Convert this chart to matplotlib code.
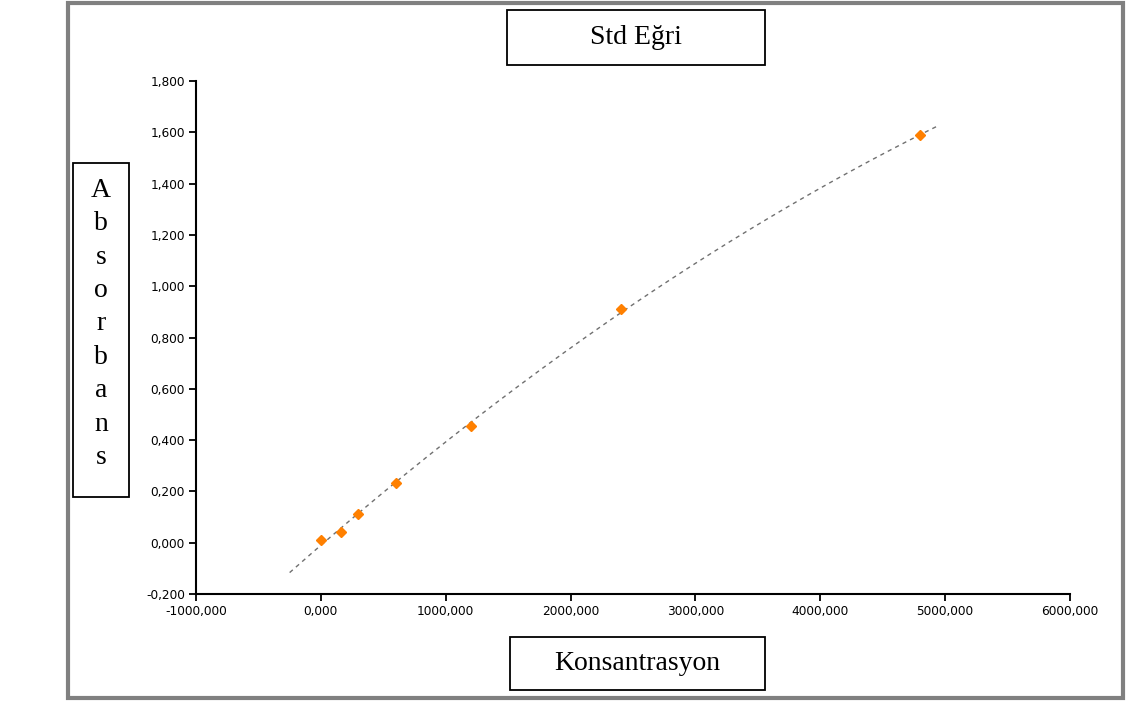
# std_egri.py
# Standard curve: absorbance vs concentration with dashed polynomial trendline

import numpy as np
import matplotlib
matplotlib.use("Agg")
import matplotlib.pyplot as plt
from matplotlib.patches import Rectangle

# ---------- DATA ----------
konsantrasyon = [0, 160, 300, 600, 1200, 2400, 4800]
absorbans = [0.012, 0.043, 0.112, 0.233, 0.455, 0.910, 1.588]
trend_range = [-250, 4950]

x_ticks = [-1000, 0, 1000, 2000, 3000, 4000, 5000, 6000]
y_ticks = [-0.2, 0.0, 0.2, 0.4, 0.6, 0.8, 1.0, 1.2, 1.4, 1.6, 1.8]

W, H = 1131, 702

# ---------- FIGURE ----------
fig = plt.figure(figsize=(W / 100, H / 100), dpi=100)

def fx(px):
    return px / W

def fy(py):
    return 1 - py / H

# outer gray frame
fig.patches.append(Rectangle((fx(68), fy(698)), fx(1123) - fx(68), fy(3) - fy(698),
                             transform=fig.transFigure, fill=False,
                             edgecolor="#808080", linewidth=3))

ax = fig.add_axes([fx(196), fy(594), fx(1070) - fx(196), fy(81) - fy(594)])

# trendline (2nd order fit of the points)
coef = np.polyfit(konsantrasyon, absorbans, 2)
xt = np.linspace(trend_range[0], trend_range[1], 200)
ax.plot(xt, np.polyval(coef, xt), linestyle=(0, (3, 3)), color="#707070", linewidth=1)

ax.plot(konsantrasyon, absorbans, linestyle="none", marker="D", markersize=5.5,
        color="#ff8000", markeredgecolor="#ff8000")

ax.set_xlim(-1000, 6000)
ax.set_ylim(-0.2, 1.8)
ax.set_xticks(x_ticks)
ax.set_yticks(y_ticks)
ax.set_xticklabels([f"{v:.3f}".replace(".", ",") for v in x_ticks])
ax.set_yticklabels([f"{v:.3f}".replace(".", ",") for v in y_ticks])

for s in ["top", "right"]:
    ax.spines[s].set_visible(False)
for s in ["left", "bottom"]:
    ax.spines[s].set_linewidth(1.5)
    ax.spines[s].set_color("black")

ax.tick_params(direction="out", length=5, width=1.3, labelsize=8.7, pad=3)
for lab in ax.get_xticklabels() + ax.get_yticklabels():
    lab.set_fontfamily("DejaVu Sans")

# ---------- LABEL BOXES ----------
def box(x0, y0, x1, y1):
    fig.patches.append(Rectangle((fx(x0), fy(y1)), fx(x1) - fx(x0), fy(y0) - fy(y1),
                                 transform=fig.transFigure, fill=False,
                                 edgecolor="black", linewidth=1.3))

box(507, 10, 765, 65)
fig.text(fx(636), fy(38), "Std Eğri", ha="center", va="center",
         fontsize=20, family="Liberation Serif")

box(510, 637, 765, 690)
fig.text(fx(637), fy(663), "Konsantrasyon", ha="center", va="center",
         fontsize=20, family="Liberation Serif")

box(73, 163, 129, 497)
letters = list("Absorbans")
for i, ch in enumerate(letters):
    fig.text(fx(101), fy(190 + i * 33.5), ch, ha="center", va="center",
             fontsize=20, family="Liberation Serif")

fig.savefig("out.png", dpi=100)
